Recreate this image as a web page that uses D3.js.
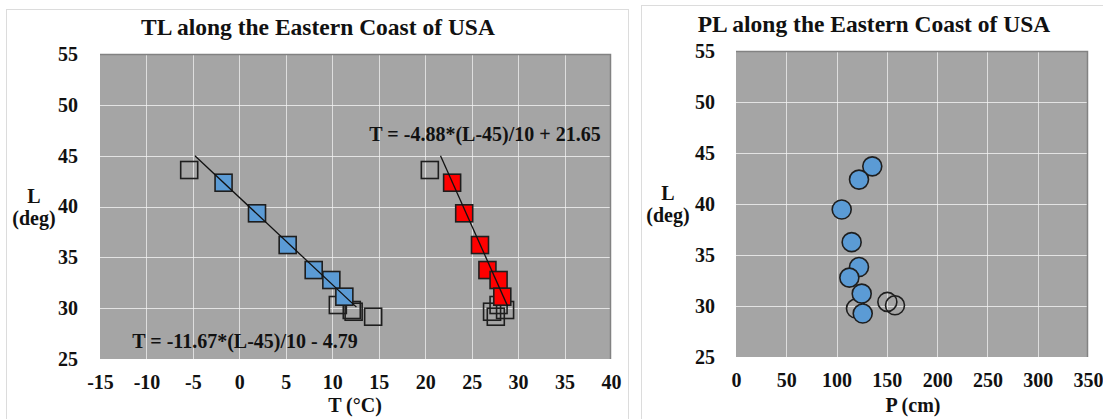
<!DOCTYPE html>
<html>
<head>
<meta charset="utf-8">
<script src="https://cdn.jsdelivr.net/npm/d3@7"></script>
<style>
  html, body { margin: 0; padding: 0; background: #fff; }
  svg { display: block; }
  text { font-family: "Liberation Serif", "Times New Roman", serif; font-weight: bold; fill: #111; }
</style>
</head>
<body>
<svg id="chart" width="1103" height="419"></svg>
<script>
// ---------- data ----------
// Left panel: T (°C) vs L (deg)
const blueT = [-1.7, 1.9, 5.2, 8.0, 9.9, 11.3];
const blueL = [42.34, 39.33, 36.21, 33.75, 32.77, 31.13];
const redT  = [22.9, 24.2, 25.9, 26.7, 27.9, 28.3];
const redL  = [42.34, 39.33, 36.21, 33.75, 32.77, 31.13];
const openColdT = [-5.4, 10.6, 12.1, 12.3, 14.4];
const openColdL = [43.59, 30.31, 29.82, 29.65, 29.16];
const openWarmT = [20.5, 27.9, 28.6, 27.2, 27.6];
const openWarmL = [43.59, 30.31, 29.82, 29.65, 29.16];
// fitted lines: T = slope*(L-45)/10 + intercept
const fitCold = { slope: -11.67, intercept: -4.79, Lfrom: 45, Lto: 30.1 };
const fitWarm = { slope: -4.88, intercept: 21.65, Lfrom: 45, Lto: 30.2 };
const eqCold = "T = -11.67*(L-45)/10 - 4.79";
const eqWarm = "T = -4.88*(L-45)/10 + 21.65";
const tTicks = [-15, -10, -5, 0, 5, 10, 15, 20, 25, 30, 35, 40];
const lTicks = [25, 30, 35, 40, 45, 50, 55];

// Right panel: P (cm) vs L (deg)
const blueP  = [135.5, 122.3, 105.1, 115.0, 122.3, 112.7, 125.0, 126.0];
const blueLP = [43.69, 42.39, 39.46, 36.26, 33.82, 32.78, 31.21, 29.26];
const openP  = [119.3, 150.5, 158.1];
const openLP = [29.75, 30.40, 30.07];
const pTicks = [0, 50, 100, 150, 200, 250, 300, 350];

const titleLeft = "TL along the Eastern Coast of USA";
const titleRight = "PL along the Eastern Coast of USA";

// ---------- drawing ----------
const svg = d3.select("#chart");
const plotBg = "#a5a5a5";
const fs = 20;

// panel frames
svg.append("rect").attr("x", 6.5).attr("y", 9.5).attr("width", 622).attr("height", 420)
  .attr("fill", "#fff").attr("stroke", "#dcdcdc");
svg.append("rect").attr("x", 641.5).attr("y", 5.5).attr("width", 470).attr("height", 420)
  .attr("fill", "#fff").attr("stroke", "#dcdcdc");

function panel(o) {
  const g = svg.append("g");
  const x = d3.scaleLinear().domain(o.xDomain).range([o.left, o.right]);
  const y = d3.scaleLinear().domain([25, 55]).range([o.bottom, o.top]);
  g.append("rect").attr("x", o.left).attr("y", o.top)
    .attr("width", o.right - o.left).attr("height", o.bottom - o.top)
    .attr("fill", plotBg);
  // gridlines
  g.append("g").selectAll("line").data(o.xTicks.slice(1, -1)).join("line")
    .attr("x1", d => Math.round(x(d)) + 0.5).attr("x2", d => Math.round(x(d)) + 0.5)
    .attr("y1", o.top).attr("y2", o.bottom)
    .attr("stroke", "#f2f2f2").attr("stroke-opacity", 0.75).attr("stroke-width", 1);
  g.append("g").selectAll("line").data(lTicks.slice(1, -1)).join("line")
    .attr("y1", d => Math.round(y(d)) + 0.5).attr("y2", d => Math.round(y(d)) + 0.5)
    .attr("x1", o.left).attr("x2", o.right)
    .attr("stroke", "#f2f2f2").attr("stroke-opacity", 0.8).attr("stroke-width", 1);
  // plot border (top / right darker)
  g.append("path")
    .attr("d", `M${o.left},${o.top + 0.5}H${o.right - 0.5}V${o.bottom}`)
    .attr("fill", "none").attr("stroke", "#828282").attr("stroke-width", 1.5);

  // axes
  const xa = g.append("g").attr("transform", `translate(0,${o.bottom})`)
    .call(d3.axisBottom(x).tickValues(o.xTicks).tickSize(0).tickPadding(o.xPad).tickFormat(d => String(d)));
  xa.select(".domain").remove();
  xa.attr("font-family", null).attr("font-size", fs);
  const ya = g.append("g").attr("transform", `translate(${o.left},0)`)
    .call(d3.axisLeft(y).tickValues(lTicks).tickSize(0).tickPadding(o.yPad).tickFormat(d => String(d)));
  ya.select(".domain").remove();
  ya.attr("font-family", null).attr("font-size", fs);
  xa.selectAll("text").attr("fill", "#111");
  ya.selectAll("text").attr("fill", "#111");

  // titles & labels
  g.append("text").attr("x", o.titleX).attr("y", o.titleY).attr("text-anchor", "middle")
    .attr("font-size", 23.5).text(o.title);
  g.append("text").attr("x", o.xLabelX).attr("y", 412).attr("text-anchor", "middle")
    .attr("font-size", fs).text(o.xLabel);
  g.append("text").attr("x", o.yLabelX).attr("y", o.yLabelY).attr("text-anchor", "middle")
    .attr("font-size", fs).text("L");
  g.append("text").attr("x", o.yLabelX).attr("y", o.yLabelY + 22).attr("text-anchor", "middle")
    .attr("font-size", fs).text("(deg)");
  return { g, x, y };
}

// Left panel
const L = panel({
  xDomain: [-15, 40], left: 100, right: 611, top: 54, bottom: 359,
  xTicks: tTicks, xPad: 16, yPad: 22,
  title: titleLeft, titleX: 318, titleY: 35,
  xLabel: "T (\u00B0C)", xLabelX: 355,
  yLabelX: 34, yLabelY: 203
});

const sq = 17;
function squares(g, xs, ys, fill) {
  g.append("g").selectAll("rect").data(xs.map((t, i) => [t, ys[i]])).join("rect")
    .attr("x", d => L.x(d[0]) - sq / 2).attr("y", d => L.y(d[1]) - sq / 2)
    .attr("width", sq).attr("height", sq)
    .attr("fill", fill).attr("stroke", "#1e1e1e").attr("stroke-width", 1.6);
}
squares(L.g, openColdT, openColdL, "none");
squares(L.g, openWarmT, openWarmL, "none");
squares(L.g, blueT, blueL, "#5b9bd5");
squares(L.g, redT, redL, "#ff0000");

function fitLine(f) {
  const pts = [f.Lfrom, f.Lto].map(l => [f.slope * (l - 45) / 10 + f.intercept, l]);
  L.g.append("path")
    .attr("d", d3.line().x(d => L.x(d[0])).y(d => L.y(d[1]))(pts))
    .attr("stroke", "#111").attr("stroke-width", 1.3).attr("fill", "none");
}
fitLine(fitCold);
fitLine(fitWarm);

L.g.append("text").attr("x", 245).attr("y", 348).attr("text-anchor", "middle")
  .attr("font-size", 20).text(eqCold);
L.g.append("text").attr("x", 485).attr("y", 141).attr("text-anchor", "middle")
  .attr("font-size", 20).text(eqWarm);

// Right panel
const R = panel({
  xDomain: [0, 350], left: 736, right: 1088, top: 51, bottom: 357,
  xTicks: pTicks, xPad: 16, yPad: 21,
  title: titleRight, titleX: 874, titleY: 32,
  xLabel: "P (cm)", xLabelX: 913,
  yLabelX: 668, yLabelY: 200
});

R.g.append("g").selectAll("circle").data(openP.map((p, i) => [p, openLP[i]])).join("circle")
  .attr("cx", d => R.x(d[0])).attr("cy", d => R.y(d[1])).attr("r", 9.5)
  .attr("fill", "none").attr("stroke", "#1e1e1e").attr("stroke-width", 1.6);
R.g.append("g").selectAll("circle").data(blueP.map((p, i) => [p, blueLP[i]])).join("circle")
  .attr("cx", d => R.x(d[0])).attr("cy", d => R.y(d[1])).attr("r", 9.5)
  .attr("fill", "#5b9bd5").attr("stroke", "#1e1e1e").attr("stroke-width", 1.6);
</script>
</body>
</html>
